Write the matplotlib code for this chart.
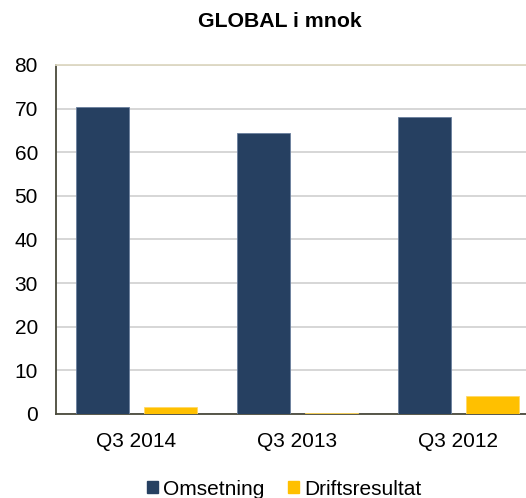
import numpy as np
import matplotlib
matplotlib.use('Agg')
import matplotlib.pyplot as plt
from matplotlib.patches import Patch

plt.rcParams['font.family'] = ['Liberation Sans', 'DejaVu Sans']

# data
kvartal = ['Q3 2014', 'Q3 2013', 'Q3 2012']
omsetning = [70.4, 64.4, 68.0]
driftsresultat = [1.6, 0.2, 4.1]

navy = '#264061'
gul = '#FFC000'

fig = plt.figure(figsize=(5.26, 4.98), dpi=100)
ax = fig.add_axes([0.1065, 0.1687, 0.918, 0.7008])

x = np.arange(len(kvartal))
w = 0.33
ax.bar(x - 0.211, omsetning, w, color=navy, edgecolor='#6a7f9e', linewidth=0.6, zorder=3)
ax.bar(x + 0.211, driftsresultat, w, color=gul, edgecolor='#ffd966', linewidth=0.6, zorder=3)

ax.set_xlim(-0.5, 2.5)
ax.set_ylim(0, 80)
ax.set_yticks(range(0, 81, 10))
ax.set_xticks(x)
ax.set_xticklabels(kvartal)
ax.tick_params(length=0, labelsize=15, colors='black')
ax.tick_params(axis='y', pad=13)
ax.tick_params(axis='x', pad=13)
ax.grid(axis='y', color='#d0d0d0', linewidth=1.2, zorder=0)

ax.spines['left'].set_color('#4a4a3c')
ax.spines['bottom'].set_color('#4a4a3c')
ax.spines['top'].set_color('#ddd8c2')
ax.spines['right'].set_visible(False)
for s in ax.spines.values():
    s.set_linewidth(1.3)

fig.text(280 / 526, 1 - 21.5 / 498, 'GLOBAL i mnok', ha='center', va='center',
         fontsize=15.3, fontweight='bold')

handles = [Patch(color=navy, label='Omsetning'), Patch(color=gul, label='Driftsresultat')]
fig.legend(handles=handles, loc='center', bbox_to_anchor=(284 / 526, 1 - 489 / 498),
           ncol=2, frameon=False, fontsize=15, handlelength=0.55, handleheight=0.55,
           handletextpad=0.25, columnspacing=1.1, borderpad=0)

fig.savefig('out.png', dpi=100)
